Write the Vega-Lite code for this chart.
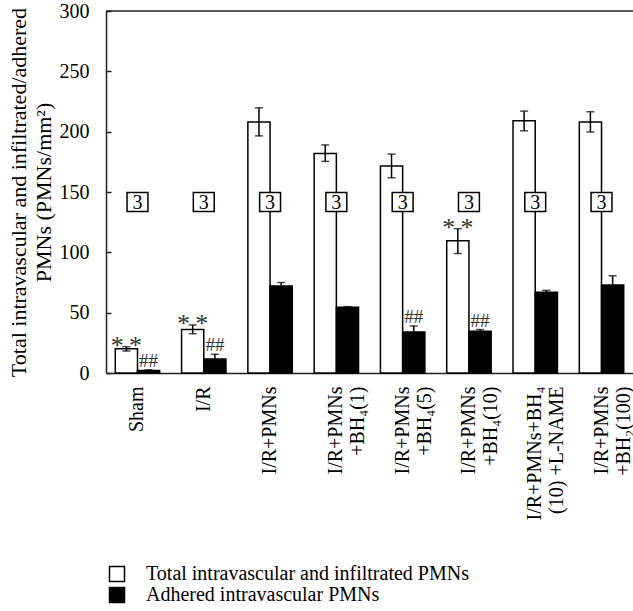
{
  "$schema": "https://vega.github.io/schema/vega-lite/v6.json",
  "width": 527,
  "height": 362,
  "autosize": {"type": "none"},
  "padding": {"left": 106, "top": 11, "right": 0, "bottom": 238},
  "background": "white",
  "config": {
    "view": {"stroke": null},
    "font": "Liberation Serif",
    "axis": {
      "labelFont": "Liberation Serif",
      "titleFont": "Liberation Serif",
      "labelColor": "black",
      "titleColor": "black",
      "grid": false,
      "domainColor": "#222",
      "domainWidth": 1.5,
      "tickColor": "#222",
      "tickWidth": 1.5
    },
    "legend": {
      "labelFont": "Liberation Serif",
      "labelColor": "black",
      "labelFontSize": 20,
      "labelLimit": 0
    }
  },
  "data": {
    "values": [
      {"group": "Sham", "series": "Total intravascular and infiltrated PMNs", "value": 20, "lo": 18.2, "hi": 21.8, "sig": "*\u2009*"},
      {"group": "Sham", "series": "Adhered intravascular PMNs", "value": 2, "lo": 1.5, "hi": 2.6, "sig": "##"},
      {"group": "I/R", "series": "Total intravascular and infiltrated PMNs", "value": 36, "lo": 32.6, "hi": 39.8, "sig": "*\u2009*"},
      {"group": "I/R", "series": "Adhered intravascular PMNs", "value": 11.5, "lo": 7.5, "hi": 15.5, "sig": "##"},
      {"group": "I/R+PMNs", "series": "Total intravascular and infiltrated PMNs", "value": 208, "lo": 196.5, "hi": 219.8, "sig": ""},
      {"group": "I/R+PMNs", "series": "Adhered intravascular PMNs", "value": 72, "lo": 69, "hi": 75, "sig": ""},
      {"group": "I/R+PMNs\n+BH₄(1)", "series": "Total intravascular and infiltrated PMNs", "value": 182, "lo": 175.4, "hi": 189, "sig": ""},
      {"group": "I/R+PMNs\n+BH₄(1)", "series": "Adhered intravascular PMNs", "value": 54.5, "lo": 54, "hi": 55, "sig": ""},
      {"group": "I/R+PMNs\n+BH₄(5)", "series": "Total intravascular and infiltrated PMNs", "value": 171.5, "lo": 161.8, "hi": 181.4, "sig": ""},
      {"group": "I/R+PMNs\n+BH₄(5)", "series": "Adhered intravascular PMNs", "value": 34, "lo": 29, "hi": 39, "sig": "##"},
      {"group": "I/R+PMNs\n+BH₄(10)", "series": "Total intravascular and infiltrated PMNs", "value": 109.5, "lo": 99, "hi": 119.6, "sig": "*\u2009*"},
      {"group": "I/R+PMNs\n+BH₄(10)", "series": "Adhered intravascular PMNs", "value": 34.5, "lo": 33, "hi": 36, "sig": "##"},
      {"group": "I/R+PMNs+BH₄\n(10) +L-NAME", "series": "Total intravascular and infiltrated PMNs", "value": 209, "lo": 200.7, "hi": 217, "sig": ""},
      {"group": "I/R+PMNs+BH₄\n(10) +L-NAME", "series": "Adhered intravascular PMNs", "value": 67, "lo": 65.5, "hi": 68.5, "sig": ""},
      {"group": "I/R+PMNs\n+BH₂(100)", "series": "Total intravascular and infiltrated PMNs", "value": 208, "lo": 199.7, "hi": 216.5, "sig": ""},
      {"group": "I/R+PMNs\n+BH₂(100)", "series": "Adhered intravascular PMNs", "value": 73, "lo": 65.5, "hi": 80.6, "sig": ""}
    ]
  },
  "layer": [
    {
      "mark": {"type": "bar", "stroke": "black", "strokeWidth": 1.5},
      "encoding": {
        "x": {
          "field": "group", "type": "nominal", "sort": null,
          "scale": {"paddingInner": 0.33, "paddingOuter": 0.14},
          "axis": {
            "title": null, "labelAngle": -90, "labelFontSize": 20, "labelLineHeight": 22,
            "labelFont": "Liberation Serif",
            "ticks": false, "tickSize": 0, "labelPadding": 13,
            "labelExpr": "split(datum.label, '\\n')"
          }
        },
        "xOffset": {
          "field": "series", "type": "nominal",
          "scale": {"domain": ["Total intravascular and infiltrated PMNs", "Adhered intravascular PMNs"], "paddingInner": 0, "paddingOuter": 0}
        },
        "y": {
          "field": "value", "type": "quantitative",
          "scale": {"domain": [0, 300], "nice": false},
          "axis": {
            "values": [0, 50, 100, 150, 200, 250, 300],
            "tickSize": -5, "labelPadding": 22, "labelFontSize": 20,
            "labelFont": "Liberation Serif", "titleFont": "Liberation Serif",
            "title": ["Total intravascular and infiltrated/adhered", "PMNs (PMNs/mm²)"],
            "titleFontSize": 22, "titleFontWeight": "normal", "titleLineHeight": 25,
            "titleX": -88, "titleY": 181, "titleBaseline": "middle", "titleAngle": -90
          }
        },
        "color": {
          "field": "series", "type": "nominal",
          "scale": {"domain": ["Total intravascular and infiltrated PMNs", "Adhered intravascular PMNs"], "range": ["white", "black"]},
          "legend": {
            "title": null, "orient": "none", "legendX": 1, "legendY": 553,
            "symbolType": "square", "symbolSize": 225, "symbolStrokeColor": "black", "symbolStrokeWidth": 1.5,
            "labelOffset": 19, "rowPadding": -1, "padding": 0, "labelLimit": 0
          }
        }
      }
    },
    {
      "mark": {"type": "rule", "color": "black", "strokeWidth": 1.5},
      "encoding": {
        "x": {"field": "group", "type": "nominal", "sort": null},
        "xOffset": {"field": "series", "type": "nominal"},
        "y": {"field": "lo", "type": "quantitative"},
        "y2": {"field": "hi"}
      }
    },
    {
      "mark": {"type": "tick", "color": "black", "thickness": 1.5, "size": 8},
      "encoding": {
        "x": {"field": "group", "type": "nominal", "sort": null},
        "xOffset": {"field": "series", "type": "nominal"},
        "y": {"field": "hi", "type": "quantitative"}
      }
    },
    {
      "mark": {"type": "tick", "color": "black", "thickness": 1.5, "size": 8},
      "encoding": {
        "x": {"field": "group", "type": "nominal", "sort": null},
        "xOffset": {"field": "series", "type": "nominal"},
        "y": {"field": "lo", "type": "quantitative"}
      }
    },
    {
      "transform": [{"filter": "datum.series == 'Total intravascular and infiltrated PMNs'"}],
      "mark": {"type": "point", "shape": "M-1.1,-1L1.1,-1L1.1,1L-1.1,1Z", "size": 361, "filled": true, "fill": "white", "stroke": "black", "strokeWidth": 1.5, "opacity": 1},
      "encoding": {
        "x": {"field": "group", "type": "nominal", "sort": null},
        "y": {"datum": 141.7}
      }
    },
    {
      "transform": [{"filter": "datum.series == 'Total intravascular and infiltrated PMNs'"}],
      "mark": {"type": "text", "text": "3", "font": "Liberation Serif", "fontSize": 20, "color": "black", "baseline": "middle", "dy": 1},
      "encoding": {
        "x": {"field": "group", "type": "nominal", "sort": null},
        "y": {"datum": 141.7}
      }
    },
    {
      "transform": [{"filter": "datum.series == 'Total intravascular and infiltrated PMNs' && datum.sig != ''"}],
      "mark": {"type": "text", "font": "Liberation Serif", "fontSize": 26, "color": "#333", "baseline": "alphabetic", "dy": 7},
      "encoding": {
        "x": {"field": "group", "type": "nominal", "sort": null},
        "xOffset": {"field": "series", "type": "nominal"},
        "y": {"field": "hi", "type": "quantitative"},
        "text": {"field": "sig"}
      }
    },
    {
      "transform": [{"filter": "datum.series == 'Adhered intravascular PMNs' && datum.sig != ''"}],
      "mark": {"type": "text", "font": "Liberation Serif", "fontSize": 19, "color": "#333", "baseline": "alphabetic", "dy": -3},
      "encoding": {
        "x": {"field": "group", "type": "nominal", "sort": null},
        "xOffset": {"field": "series", "type": "nominal"},
        "y": {"field": "hi", "type": "quantitative"},
        "text": {"field": "sig"}
      }
    },
    {
      "data": {"values": [{"v": 300}]},
      "mark": {"type": "rule", "color": "#222", "strokeWidth": 1.5},
      "encoding": {"y": {"field": "v", "type": "quantitative"}}
    }
  ]
}
